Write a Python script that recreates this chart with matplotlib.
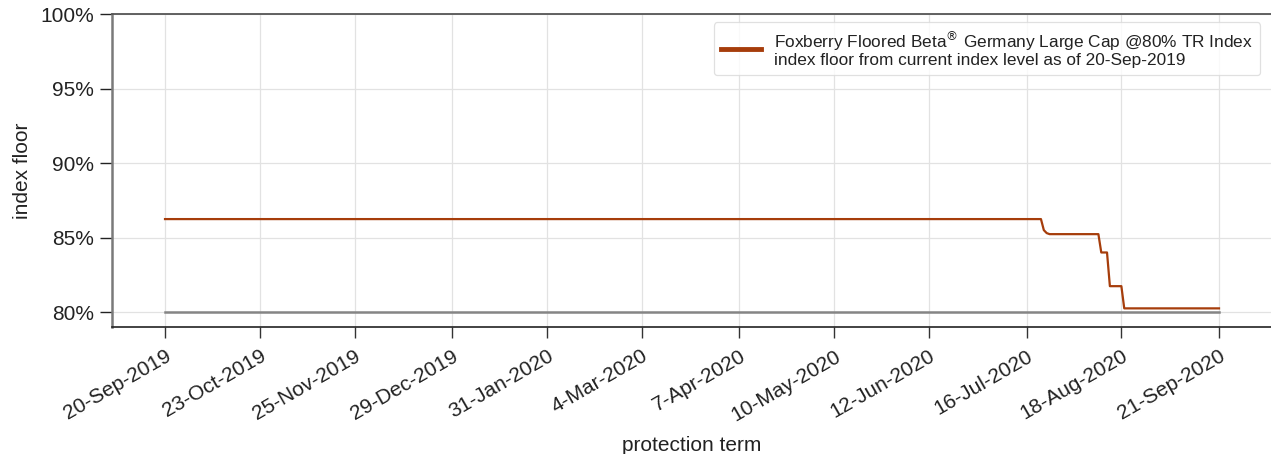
import datetime as dt

import matplotlib
matplotlib.use("Agg")
import matplotlib.pyplot as plt
import matplotlib.dates as mdates
from matplotlib.ticker import FuncFormatter

plt.rcParams["font.family"] = ["Liberation Sans", "DejaVu Sans"]

# index floor path (breakpoints), in %
floor_dates = [
    "2019-09-20", "2020-07-21", "2020-07-22", "2020-07-23", "2020-07-24",
    "2020-08-10", "2020-08-11", "2020-08-13", "2020-08-14", "2020-08-18",
    "2020-08-19", "2020-09-21",
]
floor_values = [
    86.24, 86.24, 85.50, 85.30, 85.23,
    85.23, 84.00, 84.00, 81.74, 81.74,
    80.25, 80.25,
]

# guaranteed minimum level
min_dates = ["2019-09-20", "2020-09-21"]
min_values = [80.0, 80.0]

tick_dates = [
    "2019-09-20", "2019-10-23", "2019-11-25", "2019-12-29", "2020-01-31",
    "2020-03-04", "2020-04-07", "2020-05-10", "2020-06-12", "2020-07-16",
    "2020-08-18", "2020-09-21",
]
y_ticks = [80, 85, 90, 95, 100]

legend_label = ("Foxberry Floored Beta$^{\\circledR}$ Germany Large Cap @80% TR Index\n"
                "index floor from current index level as of 20-Sep-2019")


def to_dates(values):
    return [dt.datetime.strptime(v, "%Y-%m-%d") for v in values]


fig = plt.figure(figsize=(12.71, 4.54), dpi=100)
ax = fig.add_axes([112 / 1271, 1 - 327 / 454, 1 - 112 / 1271, (327 - 14) / 454])

ax.plot(to_dates(min_dates), min_values, color="#858585", linewidth=1.8, zorder=3)
line, = ax.plot(to_dates(floor_dates), floor_values, color="#a63d0b",
                linewidth=1.6, zorder=4, label=legend_label)

start = to_dates(tick_dates)[0]
ax.set_xlim(start - dt.timedelta(days=18.46), start + dt.timedelta(days=385.1))
ax.set_ylim(79, 100)

ax.set_xticks(to_dates(tick_dates))
ax.xaxis.set_major_formatter(
    FuncFormatter(lambda x, pos: "{d.day}-{d:%b-%Y}".format(d=mdates.num2date(x))))
ax.set_yticks(y_ticks)
ax.yaxis.set_major_formatter(FuncFormatter(lambda y, pos: f"{y:.0f}%"))

plt.setp(ax.get_xticklabels(), rotation=30, ha="right", rotation_mode="anchor")
ax.tick_params(axis="x", labelsize=15, length=8, width=1.0, color="#333333",
               pad=6, labelcolor="#222222")
ax.tick_params(axis="y", labelsize=15, length=9, width=1.0, color="#222222",
               pad=4, labelcolor="#222222")

ax.grid(True, color="#e2e2e2", linewidth=0.9)
ax.set_axisbelow(True)

ax.spines["right"].set_visible(False)
ax.spines["left"].set_color("#7a7a7a")
ax.spines["left"].set_linewidth(1.8)
ax.spines["top"].set_color("#555555")
ax.spines["top"].set_linewidth(1.3)
ax.spines["bottom"].set_color("#222222")
ax.spines["bottom"].set_linewidth(1.2)

ax.set_xlabel("protection term", fontsize=15, color="#222222", labelpad=8)
ax.set_ylabel("index floor", fontsize=15, color="#222222", labelpad=6)

leg = ax.legend(handles=[line], loc="upper right", bbox_to_anchor=(0.9905, 0.974),
                borderaxespad=0, fontsize=12.4, frameon=True, fancybox=True,
                handlelength=2.35, borderpad=0.4, handletextpad=0.75,
                labelspacing=0.2)
leg.get_frame().set_edgecolor("#d9d9d9")
leg.get_frame().set_linewidth(0.9)
leg.get_lines()[0].set_linewidth(3.5)
for t in leg.get_texts():
    t.set_linespacing(1.05)
    t.set_color("#222222")

fig.savefig("out.png", dpi=100)
